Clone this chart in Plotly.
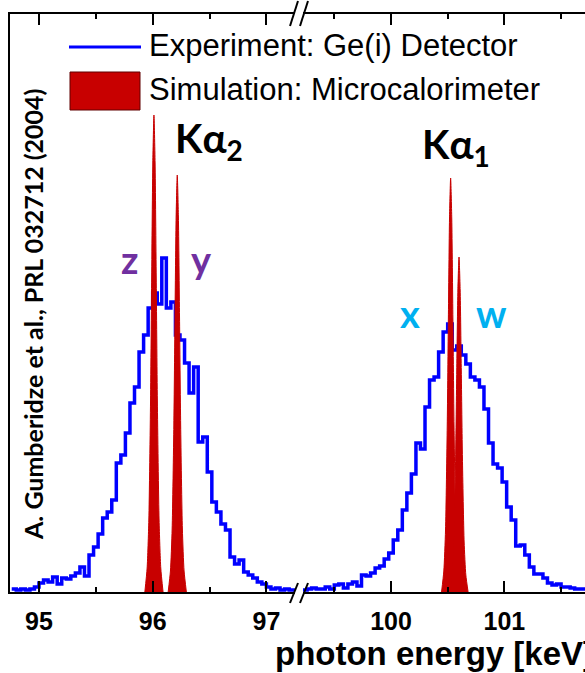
import plotly.graph_objects as go

# ---------------- data ----------------
# Ge(i) detector spectrum, bin start energies [keV] and counts (arb. units)
ka2_energy = [94.76, 94.80, 94.84, 94.88, 94.92, 94.96, 95.00, 95.04, 95.08, 95.12,
              95.16, 95.20, 95.24, 95.28, 95.32, 95.36, 95.40, 95.44, 95.48, 95.52,
              95.56, 95.60, 95.64, 95.68, 95.72, 95.76, 95.80, 95.84, 95.88, 95.92,
              95.96, 96.00, 96.04, 96.08, 96.12, 96.16, 96.20, 96.24, 96.28, 96.32,
              96.36, 96.40, 96.44, 96.48, 96.52, 96.56, 96.60, 96.64, 96.68, 96.72,
              96.76, 96.80, 96.84, 96.88, 96.92, 96.96, 97.00, 97.04, 97.08, 97.12,
              97.16, 97.20, 97.24, 97.28]
ka2_counts = [3, 2, 3, 2, 3, 5, 9, 12, 10, 15,
              8, 14, 13, 16, 19, 25, 16, 37, 45, 58,
              74, 80, 92, 129, 137, 159, 189, 205, 240, 257,
              284, 299, 288, 334, 284, 290, 257, 252, 229, 199,
              225, 150, 155, 120, 90, 80, 68, 62, 35, 28,
              32, 20, 17, 14, 10, 8, 5, 3, 4, 2,
              3, 2, 2, 2]

ka1_energy = [99.18, 99.22, 99.26, 99.30, 99.34, 99.38, 99.42, 99.46, 99.50, 99.54,
              99.58, 99.62, 99.66, 99.70, 99.74, 99.78, 99.82, 99.86, 99.90, 99.94,
              99.98, 100.02, 100.06, 100.10, 100.14, 100.18, 100.22, 100.26, 100.30, 100.34,
              100.38, 100.42, 100.46, 100.50, 100.54, 100.58, 100.62, 100.66, 100.70, 100.74,
              100.78, 100.82, 100.86, 100.90, 100.94, 100.98, 101.02, 101.06, 101.10, 101.14,
              101.18, 101.22, 101.26, 101.30, 101.34, 101.38, 101.42, 101.46, 101.50, 101.54,
              101.58, 101.62, 101.66, 101.70, 101.74]
ka1_counts = [2, 2, 3, 4, 3, 3, 5, 3, 7, 8,
              4, 8, 10, 6, 17, 16, 19, 24, 26, 33,
              39, 52, 62, 82, 99, 118, 149, 143, 185, 212,
              215, 240, 260, 268, 242, 246, 237, 228, 215, 212,
              205, 183, 149, 128, 124, 110, 85, 72, 46, 47,
              37, 25, 18, 18, 14, 9, 7, 8, 5, 5,
              4, 3, 3, 3, 3]

# Microcalorimeter simulation, line profiles (energy [keV], intensity)
z_energy = [95.931, 95.951, 95.966, 95.981, 95.991, 96.001, 96.011,
            96.021, 96.031, 96.041, 96.056, 96.071, 96.091]
z_int = [0, 24, 72, 191, 315, 429, 477, 429, 315, 191, 72, 24, 0]

y_energy = [96.136, 96.156, 96.171, 96.186, 96.196, 96.206, 96.216,
            96.226, 96.236, 96.246, 96.261, 96.276, 96.296]
y_int = [0, 21, 63, 167, 275, 375, 417, 375, 275, 167, 63, 21, 0]

x_energy = [100.446, 100.466, 100.481, 100.496, 100.506, 100.516, 100.526,
            100.536, 100.546, 100.556, 100.571, 100.586, 100.606]
x_int = [0, 21, 62, 166, 273, 373, 414, 373, 273, 166, 62, 21, 0]

w_energy = [100.520, 100.540, 100.555, 100.570, 100.580, 100.590, 100.600,
            100.610, 100.620, 100.630, 100.645, 100.660, 100.680]
w_int = [0, 17, 50, 134, 221, 302, 335, 302, 221, 134, 50, 17, 0]

# axis segments of the broken energy axis
left_range = [94.745, 97.2515]
right_range = [99.224, 101.711]
left_major = [95, 96, 97]
left_minor = [95.5, 96.5]
right_major = [100, 101]
right_minor = [99.5, 100.5, 101.5]

BLUE = "#0000FF"
RED = "#C80000"
PURPLE = "#7030A0"
CYAN = "#00B0F0"

# ---------------- figure ----------------
W, H = 585, 673
ML, MR, MT, MB = 10, 0, 14, 81
PW = W - ML - MR
PH = H - MT - MB


def px(xp):
    return (xp - ML) / PW


def py(yp):
    return (H - MB - yp) / PH


fig = go.Figure()

fig.add_trace(go.Scatter(x=ka2_energy, y=ka2_counts, mode="lines",
                         line=dict(color=BLUE, width=3.5, shape="hv"),
                         xaxis="x", yaxis="y", showlegend=False))
fig.add_trace(go.Scatter(x=ka1_energy, y=ka1_counts, mode="lines",
                         line=dict(color=BLUE, width=3.5, shape="hv"),
                         xaxis="x2", yaxis="y", showlegend=False))

for e, v, ax in [(z_energy, z_int, "x"), (y_energy, y_int, "x"),
                 (x_energy, x_int, "x2"), (w_energy, w_int, "x2")]:
    fig.add_trace(go.Scatter(x=e, y=v, mode="lines", fill="tozeroy",
                             fillcolor=RED,
                             line=dict(color=RED, width=1, shape="spline", smoothing=0.6),
                             xaxis=ax, yaxis="y", showlegend=False))

tickfont = dict(family="Liberation Sans, Arial", size=25, color="black")
common_x = dict(showline=True, linecolor="black", linewidth=2, mirror="allticks",
                ticks="inside", ticklen=11, tickwidth=2, tickcolor="black",
                showgrid=False, zeroline=False, tickfont=tickfont,
                ticklabelstandoff=6)

fig.update_layout(
    width=W, height=H,
    margin=dict(l=ML, r=MR, t=MT, b=MB),
    paper_bgcolor="white", plot_bgcolor="white",
    xaxis=dict(domain=[0, px(295)], range=left_range, tickvals=left_major,
               ticktext=[f"<b>{v}</b>" for v in left_major],
               minor=dict(tickvals=left_minor, ticks="inside", ticklen=5,
                          tickwidth=2, tickcolor="black"),
               **common_x),
    xaxis2=dict(domain=[px(303), 1], range=right_range, tickvals=right_major,
                ticktext=[f"<b>{v}</b>" for v in right_major],
                anchor="y",
                minor=dict(tickvals=right_minor, ticks="inside", ticklen=5,
                           tickwidth=2, tickcolor="black"),
                **common_x),
    yaxis=dict(range=[0, PH], showline=True, linecolor="black", linewidth=2,
               showticklabels=False, ticks="", showgrid=False, zeroline=False),
)

# axis-break marks
shapes = []
for x0 in (290, 300):
    shapes.append(dict(type="line", xref="paper", yref="paper",
                       x0=px(x0), y0=py(603), x1=px(x0 + 8), y1=py(583),
                       line=dict(color="black", width=2)))
    shapes.append(dict(type="line", xref="paper", yref="paper",
                       x0=px(x0), y0=py(26), x1=px(x0 + 8), y1=py(1),
                       line=dict(color="black", width=2)))

# legend
shapes.append(dict(type="line", xref="paper", yref="paper",
                   x0=px(69), y0=py(47), x1=px(141), y1=py(47),
                   line=dict(color=BLUE, width=3)))
shapes.append(dict(type="rect", xref="paper", yref="paper",
                   x0=px(70), y0=py(110), x1=px(140), y1=py(72),
                   fillcolor=RED, line=dict(color="#600000", width=1)))
fig.update_layout(shapes=shapes)

leg_font = dict(family="Liberation Sans, Arial", size=31, color="black")
annotations = [
    dict(text="Experiment: Ge(i) Detector", xref="paper", yref="paper",
         x=px(147), y=py(46), xanchor="left", yanchor="middle",
         showarrow=False, font=leg_font),
    dict(text="Simulation: Microcalorimeter", xref="paper", yref="paper",
         x=px(147), y=py(89), xanchor="left", yanchor="middle",
         showarrow=False, font=leg_font),
    dict(text="<b>photon energy [keV]</b>", xref="paper", yref="paper",
         x=px(273), y=py(653), xanchor="left", yanchor="middle",
         showarrow=False,
         font=dict(family="Liberation Sans, Arial", size=33, color="black")),
    dict(text="<b>A. Gumberidze et al., PRL 032712 (2004)</b>", xref="paper", yref="paper",
         x=px(33), y=py(315), xanchor="center", yanchor="middle", textangle=-90,
         showarrow=False,
         font=dict(family="Lato", size=25, color="black")),
    dict(text="<b>Kα<sub>2</sub></b>", xref="x", yref="y", x=96.18, y=PH - 126,
         xanchor="left", yanchor="middle", showarrow=False,
         font=dict(family="Lato", size=40, color="black")),
    dict(text="<b>Kα<sub>1</sub></b>", xref="x2", yref="y", x=100.256, y=PH - 132,
         xanchor="left", yanchor="middle", showarrow=False,
         font=dict(family="Lato", size=40, color="black")),
    dict(text="<b>z</b>", xref="x", yref="y", x=95.80, y=PH - 245,
         showarrow=False, font=dict(family="Lato", size=38, color=PURPLE)),
    dict(text="<b>y</b>", xref="x", yref="y", x=96.43, y=PH - 245,
         showarrow=False, font=dict(family="Lato", size=38, color=PURPLE)),
    dict(text="<b>x</b>", xref="x2", yref="y", x=100.17, y=PH - 299,
         showarrow=False, font=dict(family="Lato", size=38, color=CYAN)),
    dict(text="<b>w</b>", xref="x2", yref="y", x=100.89, y=PH - 299,
         showarrow=False, font=dict(family="Lato", size=38, color=CYAN)),
]
fig.update_layout(annotations=annotations)

fig.write_html("out.html")
